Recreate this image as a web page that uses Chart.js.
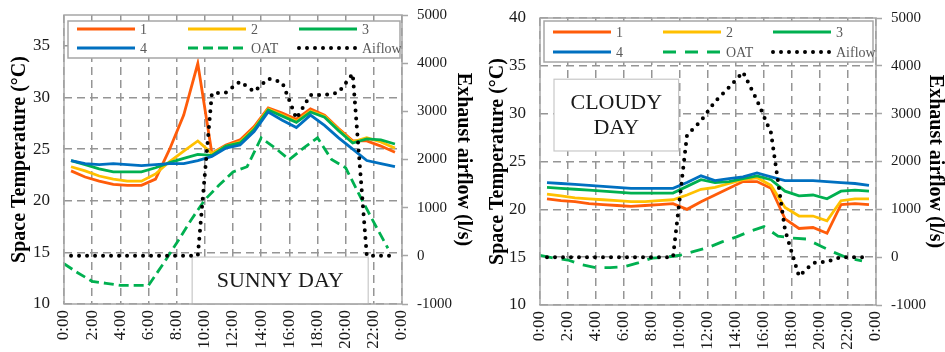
<!DOCTYPE html>
<html>
<head>
<meta charset="utf-8">
<script src="https://cdn.jsdelivr.net/npm/chart.js@4.4.1/dist/chart.umd.min.js"></script>
<style>
  html, body { margin: 0; padding: 0; background: #fff; }
  #wrap { position: relative; width: 945px; height: 352px; overflow: hidden; background: #fff; }
  #sunny { position: absolute; left: 0; top: 0; }
  #cloudy { position: absolute; left: 470px; top: 0; }
</style>
</head>
<body>
<div id="wrap">
  <canvas id="sunny" width="480" height="370" style="width:480px;height:370px"></canvas>
  <canvas id="cloudy" width="475" height="370" style="width:475px;height:370px"></canvas>
</div>
<script>
// time of day (hours) for the room readings and for the outdoor air temperature
const halfHours = [0.5, 1.5, 2.5, 3.5, 4.5, 5.5, 6.5, 7.5, 8.5, 9.5, 10.5, 11.5,
  12.5, 13.5, 14.5, 15.5, 16.5, 17.5, 18.5, 19.5, 20.5, 21.5, 22.5, 23.5];
const oatHours = [0, 1, 2, 3, 4, 5, 6, 7, 8, 9, 10, 11,
  12, 13, 14, 15, 16, 17, 18, 19, 20, 21, 22, 23];
const xTickLabels = ['0:00', '2:00', '4:00', '6:00', '8:00', '10:00', '12:00',
  '14:00', '16:00', '18:00', '20:00', '22:00', '0:00'];
const seriesNames = ['1', '2', '3', '4', 'OAT', 'Aiflow'];

// sunny day
const sunnyRoom1 = [22.9, 22.3, 21.9, 21.6, 21.5, 21.5, 22.1, 25.0, 28.3, 33.3, 24.6, 25.4, 25.9, 27.2, 29.0, 28.5, 27.9, 28.9, 28.3, 27.0, 25.8, 25.8, 25.3, 24.7];
const sunnyRoom2 = [23.3, 22.9, 22.4, 22.1, 21.9, 21.9, 22.6, 23.8, 24.8, 25.8, 24.6, 25.3, 25.7, 27.0, 28.9, 28.3, 27.7, 28.7, 28.2, 26.9, 25.7, 26.1, 25.7, 25.1];
const sunnyRoom3 = [23.9, 23.5, 23.1, 22.8, 22.8, 22.8, 23.2, 23.7, 24.1, 24.5, 24.4, 25.3, 25.6, 26.9, 28.8, 28.2, 27.6, 28.6, 28.1, 26.8, 25.6, 26.0, 25.9, 25.5];
const sunnyRoom4 = [23.9, 23.6, 23.5, 23.6, 23.5, 23.4, 23.5, 23.6, 23.6, 23.9, 24.3, 25.1, 25.4, 26.7, 28.6, 27.8, 27.1, 28.3, 27.3, 26.1, 25.0, 23.9, 23.6, 23.3];
const sunnyOat = [13.9, 13.0, 12.2, 12.0, 11.8, 11.8, 11.8, 13.8, 15.9, 18.1, 20.1, 21.5, 22.8, 23.3, 26.1, 25.1, 24.0, 25.1, 26.1, 24.0, 23.2, 20.5, 17.9, 15.4];
const sunnyAirflow = [0, 0, 0, 0, 0, 0, 0, 0, 0, 0, 3375, 3390, 3620, 3410, 3680, 3600, 2850, 3340, 3340, 3390, 3780, 0, 0, 0];

// cloudy day
const cloudyRoom1 = [21.1, 20.9, 20.8, 20.6, 20.5, 20.4, 20.3, 20.4, 20.5, 20.6, 20.0, 20.8, 21.5, 22.2, 22.9, 22.9, 22.2, 19.0, 18.0, 18.1, 17.5, 20.5, 20.6, 20.5];
const cloudyRoom2 = [21.6, 21.4, 21.2, 21.1, 21.0, 20.9, 20.8, 20.8, 20.9, 21.0, 21.5, 22.1, 22.3, 22.7, 23.1, 23.3, 22.5, 20.2, 19.3, 19.3, 18.8, 20.9, 21.1, 21.1];
const cloudyRoom3 = [22.3, 22.2, 22.1, 22.0, 21.9, 21.8, 21.7, 21.7, 21.7, 21.7, 22.4, 23.1, 22.8, 22.9, 23.2, 23.5, 23.1, 21.9, 21.4, 21.5, 21.1, 21.9, 22.0, 21.9];
const cloudyRoom4 = [22.8, 22.7, 22.6, 22.5, 22.4, 22.3, 22.2, 22.2, 22.2, 22.2, 22.8, 23.5, 23.0, 23.2, 23.4, 23.8, 23.4, 23.0, 23.0, 23.0, 22.9, 22.8, 22.7, 22.5];
const cloudyOat = [15.2, 14.9, 14.7, 14.2, 13.9, 13.9, 14.0, 14.4, 14.9, 15.0, 15.2, 15.6, 16.0, 16.6, 17.1, 17.7, 18.2, 17.2, 17.0, 16.9, 16.2, 15.5, 14.9, 14.6];
const cloudyAirflow = [0, 0, 0, 0, 0, 0, 0, 0, 0, 0, 2550, 2850, 3250, 3550, 3870, 3280, 2600, 570, -400, -120, -95, 0, 0, 0];

const SERIF = '"Liberation Serif", "Times New Roman", serif';
const GRID = '#959595';
const FRAME = '#a6a6a6';
const roomColors = ['#ff5c0a', '#ffc000', '#00b050', '#0070c0'];

const pts = (xs, ys) => xs.map((x, i) => ({ x, y: ys[i] }));

// text box like "SUNNY DAY", placed in axis units
const textBox = {
  id: 'textBox',
  beforeDatasetsDraw(chart, args, o) {
    const { ctx, scales } = chart;
    const l = scales.x.getPixelForValue(o.x0), r = scales.x.getPixelForValue(o.x1);
    const t = scales.y.getPixelForValue(o.y0), b = scales.y.getPixelForValue(o.y1);
    ctx.save();
    ctx.fillStyle = '#fff';
    ctx.fillRect(l, t, r - l, b - t);
    ctx.strokeStyle = '#c8c8c8';
    ctx.lineWidth = 1.2;
    ctx.strokeRect(l, t, r - l, b - t);
    ctx.fillStyle = '#1a1a1a';
    ctx.font = '22px ' + SERIF;
    ctx.textAlign = 'center';
    ctx.textBaseline = 'middle';
    const cy = (t + b) / 2, n = o.lines.length;
    o.lines.forEach((s, i) => ctx.fillText(s, (l + r) / 2, cy + (i - (n - 1) / 2) * 25 + 1));
    ctx.restore();
  }
};

// boxed legend inside the plot, 3 columns x 2 rows, plus the plot frame
const boxLegend = {
  id: 'boxLegend',
  afterDatasetsDraw(chart, args, o) {
    const { ctx, chartArea: a } = chart;
    const x0 = a.left + o.left, y0 = a.top + o.top;
    const w = a.right - o.right - x0;
    ctx.save();
    ctx.fillStyle = '#fff';
    ctx.fillRect(x0, y0, w, o.height);
    ctx.strokeStyle = FRAME;
    ctx.lineWidth = 1.5;
    ctx.strokeRect(x0, y0, w, o.height);
    ctx.font = '14px ' + SERIF;
    ctx.textBaseline = 'middle';
    chart.data.datasets.forEach((ds, i) => {
      const lx = x0 + o.cols[i % 3], ly = y0 + o.rows[Math.floor(i / 3)];
      ctx.beginPath();
      ctx.setLineDash(ds.borderDash || []);
      ctx.lineCap = ds.borderCapStyle || 'butt';
      ctx.lineWidth = ds.borderWidth;
      ctx.strokeStyle = ds.borderColor;
      ctx.moveTo(lx, ly);
      ctx.lineTo(lx + o.lineLen, ly);
      ctx.stroke();
      ctx.fillStyle = '#595959';
      ctx.fillText(ds.label, lx + o.lineLen + 5, ly + 1);
    });
    ctx.setLineDash([]);
    ctx.lineWidth = 1.5;
    ctx.strokeStyle = FRAME;
    ctx.strokeRect(a.left, a.top, a.right - a.left, a.bottom - a.top);
    ctx.restore();
  }
};

// fixed axis sizes, and no extra room asked for the end labels
const fixWidth = w => s => { s.width = w; s.paddingTop = 0; s.paddingBottom = 0; };
const fixHeight = h => s => { s.height = h; s.paddingLeft = 0; s.paddingRight = 0; };

function makeChart(id, rooms, oat, airflow, g) {
  const datasets = rooms.map((r, i) => ({
    label: seriesNames[i], data: pts(halfHours, r), yAxisID: 'y',
    borderColor: roomColors[i], borderWidth: 2.8, order: 6 - i
  }));
  datasets.push({
    label: seriesNames[4], data: pts(oatHours, oat), yAxisID: 'y',
    borderColor: '#00b050', borderWidth: 2.8, borderDash: g.oatDash, order: 2
  });
  datasets.push({
    label: seriesNames[5], data: pts(halfHours, airflow), yAxisID: 'y1',
    borderColor: '#000', borderWidth: 4, borderDash: [0, 8], borderCapStyle: 'round', order: 1
  });

  return new Chart(document.getElementById(id), {
    type: 'line',
    data: { datasets },
    plugins: [textBox, boxLegend],
    options: {
      responsive: false,
      animation: false,
      events: [],
      layout: { padding: { top: g.top, left: 0, right: 0, bottom: 0 } },
      elements: { point: { radius: 0 }, line: { tension: 0 } },
      plugins: {
        legend: { display: false },
        tooltip: { enabled: false },
        textBox: g.box,
        boxLegend: g.legend
      },
      scales: {
        x: {
          type: 'linear', min: 0, max: 24,
          afterFit: fixHeight(g.xHeight),
          ticks: {
            stepSize: 2, autoSkip: false, minRotation: 90, maxRotation: 90, padding: 6,
            color: '#1a1a1a', font: { family: SERIF, size: 17 },
            callback: (v, i) => xTickLabels[i]
          },
          grid: { color: GRID, lineWidth: 1.5, drawTicks: false },
          border: { display: false, dash: [8, 5] }
        },
        y: {
          position: 'left', min: 10, max: g.tempMax,
          afterFit: fixWidth(g.leftWidth),
          ticks: {
            stepSize: 5, includeBounds: false, padding: 14,
            color: '#1a1a1a', font: { family: SERIF, size: 17 }
          },
          grid: { color: GRID, lineWidth: 1.5, drawTicks: false },
          border: { display: false, dash: [8, 5] },
          title: {
            display: true, text: 'Space Temperature (°C)', color: '#000',
            font: { family: SERIF, size: 20, weight: 'bold', lineHeight: 1 },
            padding: { top: g.leftTitlePad, bottom: 0 }
          }
        },
        y1: {
          position: 'right', min: -1000, max: 5000,
          afterFit: fixWidth(g.rightWidth),
          ticks: {
            stepSize: 1000, padding: 9,
            color: '#1a1a1a', font: { family: SERIF, size: 15 },
            callback: v => String(v)
          },
          grid: { drawOnChartArea: false, drawTicks: true, tickLength: 6, tickColor: FRAME, tickWidth: 1.5 },
          border: { display: false },
          title: {
            display: true, text: 'Exhaust airflow (l/s)', color: '#000',
            font: { family: SERIF, size: 20, weight: 'bold', lineHeight: 1 },
            padding: { top: g.rightTitlePad, bottom: 0 }
          }
        }
      }
    }
  });
}

makeChart('sunny', [sunnyRoom1, sunnyRoom2, sunnyRoom3, sunnyRoom4], sunnyOat, sunnyAirflow, {
  top: 15, xHeight: 66, leftWidth: 64, rightWidth: 78, tempMax: 38,
  leftTitlePad: 10, rightTitlePad: 7, oatDash: [10, 5],
  box: { x0: 9.1, x1: 21.6, y0: 14.55, y1: 10, lines: ['SUNNY DAY'] },
  legend: { left: 4, right: 2, top: 6, height: 37, cols: [9, 120, 231], rows: [8, 27], lineLen: 58 }
});

makeChart('cloudy', [cloudyRoom1, cloudyRoom2, cloudyRoom3, cloudyRoom4], cloudyOat, cloudyAirflow, {
  top: 18, xHeight: 65, leftWidth: 70, rightWidth: 69, tempMax: 40,
  leftTitlePad: 18, rightTitlePad: 0, oatDash: [13, 9],
  box: { x0: 1.0, x1: 9.9, y0: 33.6, y1: 26.1, lines: ['CLOUDY', 'DAY'] },
  legend: { left: 4, right: 3, top: 3, height: 41, cols: [9, 119, 229], rows: [11, 31], lineLen: 58 }
});
</script>
</body>
</html>
